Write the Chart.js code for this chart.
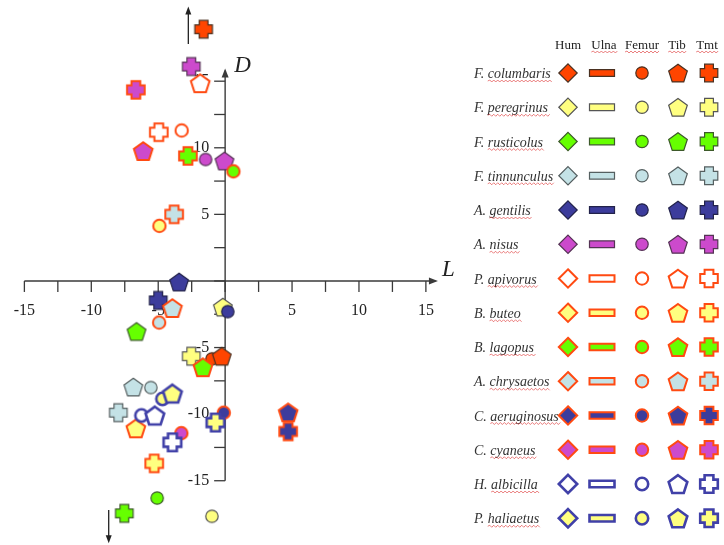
<!DOCTYPE html>
<html><head><meta charset="utf-8">
<script src="https://cdn.jsdelivr.net/npm/chart.js@4"></script>
<style>html,body{margin:0;padding:0;background:#fff;overflow:hidden}#wrap{width:724px;height:545px;position:relative}</style>
</head><body><div id="wrap"><canvas id="c" width="724" height="545"></canvas></div>
<script>
// ---- data ----
const species = ["F. columbaris","F. peregrinus","F. rusticolus","F. tinnunculus","A. gentilis","A. nisus","P. apivorus","B. buteo","B. lagopus","A. chrysaetos","C. aeruginosus","C. cyaneus","H. albicilla","P. haliaetus"];
const bones = ["Hum","Ulna","Femur","Tib","Tmt"];
const femurL = [-0.99,-0.99,-5.08,-5.55,0.20,-1.46,-3.25,-4.91,0.62,-4.93,-0.10,-3.27,-6.25,-4.68];
const femurD = [-5.85,-17.67,-16.3,-8.0,-2.3,9.12,11.3,4.14,8.23,-3.12,-9.89,-11.43,-10.1,-8.85];
const tibL = [-0.25,-0.17,-6.62,-6.86,-3.44,-0.05,-1.86,-6.67,-1.66,-3.94,4.71,-6.12,-5.25,-3.94];
const tibD = [-5.65,-1.96,-3.79,-7.96,-0.07,9.02,14.85,-11.06,-6.47,-2.03,-9.86,9.76,-10.1,-8.45];
const tmtL = [-1.61,-2.53,-7.53,-7.98,-5.0,-2.53,-4.96,-5.3,-2.78,-3.81,4.71,-6.67,-3.94,-0.72];
const tmtD = [18.9,-5.65,-17.45,-9.89,-1.46,16.1,11.17,-13.7,9.39,5.0,-11.3,14.35,-12.12,-10.63];
const xTickLabels = [-15,-10,-5,5,10,15];
const yTickLabels = [-15,-10,-5,5,10,15];

// ---- styles ----
const fillColors = ['#FF4500','#FFFF80','#66FF00','#C4E2E6','#3C3C9C','#CC4ACC','#FFFFFF','#FFFF80','#66FF00','#C4E2E6','#3C3C9C','#CC4ACC','#FFFFFF','#FFFF80'];
const edgeColors = ['#4a3020','#555555','#3d5a2a','#555f60','#22224a','#553355','#FF4A12','#FF4A12','#FF4A12','#FF4A12','#FF4A12','#FF4A12','#4040A8','#4040A8'];
const edgeWidths = [1.2,1.2,1.2,1.2,1.2,1.2,2,2,2,2,2,2,2.6,2.6];

function drawShape(ctx, shape, cx, cy, fill, stroke, lw){
  ctx.save();
  ctx.beginPath();
  if (shape==='circle'){ ctx.arc(cx,cy,6.2,0,Math.PI*2); }
  else if (shape==='diamond'){ const r=9.2; ctx.moveTo(cx,cy-r);ctx.lineTo(cx+r,cy);ctx.lineTo(cx,cy+r);ctx.lineTo(cx-r,cy);ctx.closePath(); }
  else if (shape==='rect'){ ctx.rect(cx-12.5,cy-3.3,25,6.6); }
  else if (shape==='pentagon'){ const R=9.8; for(let k=0;k<5;k++){const a=(-90+72*k)*Math.PI/180; const px=cx+R*Math.cos(a), py=cy+1+R*Math.sin(a); k?ctx.lineTo(px,py):ctx.moveTo(px,py);} ctx.closePath(); }
  else if (shape==='cross'){ const s=8.8,a=4.4; const pts=[[-a,-s],[a,-s],[a,-a],[s,-a],[s,a],[a,a],[a,s],[-a,s],[-a,a],[-s,a],[-s,-a],[-a,-a]]; pts.forEach((p,k)=>k?ctx.lineTo(cx+p[0],cy+p[1]):ctx.moveTo(cx+p[0],cy+p[1])); ctx.closePath(); }
  ctx.fillStyle=fill; ctx.fill();
  ctx.lineWidth=lw; ctx.strokeStyle=stroke; ctx.lineJoin='miter'; ctx.stroke();
  ctx.restore();
}
function icon(i, shape){
  const cv=document.createElement('canvas'); cv.width=28; cv.height=28;
  drawShape(cv.getContext('2d'), shape, 14, 14, fillColors[i], edgeColors[i], edgeWidths[i]);
  return cv;
}

// mapping constants (layout)
const KX=13.45, KY=13.42, X0=224, Y0=283;
const xMin=-16, xMax=17, yMin=-19, yMax=20;

const axesPlugin = {
  id:'crossAxes',
  beforeDatasetsDraw(chart){
    const ctx=chart.ctx, xs=chart.scales.x, ys=chart.scales.y;
    const px=v=>xs.getPixelForValue(v), py=v=>ys.getPixelForValue(v);
    const ox=px(0), oy=py(0);
    ctx.save();
    ctx.strokeStyle='#3a3a3a'; ctx.fillStyle='#3a3a3a'; ctx.lineWidth=1.4;
    // x axis
    ctx.beginPath(); ctx.moveTo(px(-15),oy); ctx.lineTo(px(15.7),oy); ctx.stroke();
    ctx.beginPath(); ctx.moveTo(px(15.75)+2,oy); ctx.lineTo(px(15.75)-7,oy-3.5); ctx.lineTo(px(15.75)-7,oy+3.5); ctx.closePath(); ctx.fill();
    // y axis
    ctx.beginPath(); ctx.moveTo(ox,py(-15)); ctx.lineTo(ox,py(15.8)); ctx.stroke();
    ctx.beginPath(); ctx.moveTo(ox,py(15.8)-2); ctx.lineTo(ox-3.5,py(15.8)+7); ctx.lineTo(ox+3.5,py(15.8)+7); ctx.closePath(); ctx.fill();
    // ticks
    ctx.lineWidth=1.3;
    for(let v=-15; v<=15.001; v+=2.5){
      ctx.beginPath(); ctx.moveTo(px(v),oy); ctx.lineTo(px(v),oy+11); ctx.stroke();
      ctx.beginPath(); ctx.moveTo(ox,py(v)); ctx.lineTo(ox-11,py(v)); ctx.stroke();
    }
    ctx.fillStyle='#222';
    ctx.font='16px "Liberation Serif", "DejaVu Serif", serif';
    ctx.textAlign='center'; ctx.textBaseline='middle';
    xTickLabels.forEach(v=>ctx.fillText(String(v), px(v), oy+30));
    ctx.textAlign='right';
    yTickLabels.forEach(v=>ctx.fillText(String(v), ox-16, py(v)));
    // axis titles
    ctx.font='italic 23px "Liberation Serif", serif';
    ctx.textAlign='left'; ctx.textBaseline='alphabetic';
    ctx.fillText('L', px(16.2), oy-5);
    ctx.fillText('D', ox+9, py(15.8)+1);
    // off-scale arrows
    ctx.strokeStyle='#222'; ctx.fillStyle='#222'; ctx.lineWidth=1.3;
    const ax=px(-2.75);
    ctx.beginPath(); ctx.moveTo(ax,py(17.8)); ctx.lineTo(ax,py(20.3)); ctx.stroke();
    ctx.beginPath(); ctx.moveTo(ax,py(20.6)); ctx.lineTo(ax-3,py(20.6)+8); ctx.lineTo(ax+3,py(20.6)+8); ctx.closePath(); ctx.fill();
    const bx=px(-8.7);
    ctx.beginPath(); ctx.moveTo(bx,py(-17.2)); ctx.lineTo(bx,py(-19.4)); ctx.stroke();
    ctx.beginPath(); ctx.moveTo(bx,py(-19.7)); ctx.lineTo(bx-3,py(-19.7)-8); ctx.lineTo(bx+3,py(-19.7)-8); ctx.closePath(); ctx.fill();
    ctx.restore();
  }
};

function wavy(ctx,x1,x2,y){
  ctx.save(); ctx.strokeStyle='rgba(220,40,40,0.75)'; ctx.lineWidth=0.8;
  ctx.beginPath(); ctx.moveTo(x1,y); let up=true;
  for(let x=x1;x<x2;x+=2){ ctx.lineTo(x+2, up?y-1:y+1); up=!up; }
  ctx.stroke(); ctx.restore();
}

const keyPlugin = {
  id:'boneKey',
  afterDraw(chart){
    const ctx=chart.ctx;
    const colX=[568,602,642,678,709];
    const headX=[568,604,642,677,707];
    const shapes=['diamond','rect','circle','pentagon','cross'];
    ctx.save();
    ctx.font='13px "Liberation Serif", serif'; ctx.fillStyle='#222'; ctx.textAlign='center'; ctx.textBaseline='alphabetic';
    bones.forEach((b,k)=>{ ctx.fillText(b, headX[k], 49); if(k>0){const w=ctx.measureText(b).width; wavy(ctx, headX[k]-w/2, headX[k]+w/2, 52);} });
    species.forEach((sp,i)=>{
      const y=73+34.25*i;
      const parts=sp.split(' ');
      ctx.font='italic 14px "Liberation Serif", serif'; ctx.fillStyle='#333'; ctx.textAlign='left';
      const g=parts[0]+' ';
      ctx.fillText(g, 474, y+5);
      const gw=ctx.measureText(g).width;
      ctx.fillText(parts[1], 474+gw, y+5);
      const ew=ctx.measureText(parts[1]).width;
      wavy(ctx, 474+gw, 474+gw+ew, y+8);
      shapes.forEach((s,k)=>drawShape(ctx, s, colX[k], y, fillColors[i], edgeColors[i], edgeWidths[i]));
    });
    ctx.restore();
  }
};

const datasets = species.map((sp,i)=>({
  label: sp,
  data: [{x:femurL[i],y:femurD[i]},{x:tibL[i],y:tibD[i]},{x:tmtL[i],y:tmtD[i]}],
  pointStyle: [icon(i,'circle'), icon(i,'pentagon'), icon(i,'cross')],
  pointRadius: 10,
  showLine: false,
  order: species.length - i
}));

new Chart(document.getElementById('c'), {
  type: 'scatter',
  data: { datasets },
  options: {
    responsive: false,
    animation: false,
    events: [],
    layout: { padding: { left: X0 + xMin*KX, right: 724 - (X0 + xMax*KX), top: Y0 - yMax*KY, bottom: 545 - (Y0 - yMin*KY) } },
    scales: {
      x: { type:'linear', min:xMin, max:xMax, display:false },
      y: { type:'linear', min:yMin, max:yMax, display:false }
    },
    plugins: { legend:{display:false}, tooltip:{enabled:false} }
  },
  plugins: [axesPlugin, keyPlugin]
});
</script>
</body></html>
